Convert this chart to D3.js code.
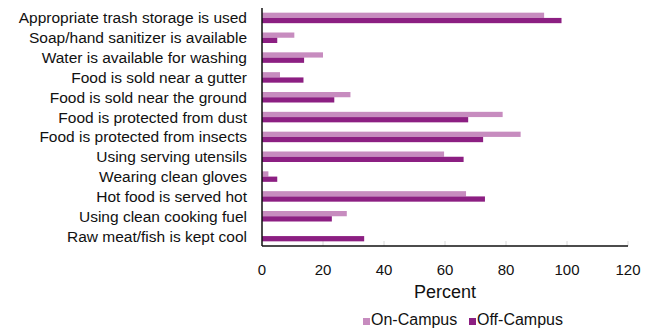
<!DOCTYPE html>
<html>
<head>
<meta charset="utf-8">
<script src="https://cdn.jsdelivr.net/npm/d3@7"></script>
<style>
  body { margin: 0; background: #fff; }
  svg { display: block; font-family: "Liberation Sans", Arial, sans-serif; }
</style>
</head>
<body>
<svg id="chart" width="648" height="328"></svg>
<script>
// Hygiene practices observed among food vendors
const categories = [
  "Appropriate trash storage is used",
  "Soap/hand sanitizer is available",
  "Water is available for washing",
  "Food is sold near a gutter",
  "Food is sold near the ground",
  "Food is protected from dust",
  "Food is protected from insects",
  "Using serving utensils",
  "Wearing clean gloves",
  "Hot food is served hot",
  "Using clean cooking fuel",
  "Raw meat/fish is kept cool"
];
const onCampus  = [92.5, 10.6, 20.0, 5.9, 29.0, 78.9, 84.8, 59.7, 2.1, 66.9, 27.8, 0];
const offCampus = [98.2, 5.0, 13.8, 13.6, 23.7, 67.6, 72.5, 66.1, 5.0, 73.1, 22.9, 33.5];
const seriesNames = ["On-Campus", "Off-Campus"];
const seriesColors = ["#c78cbf", "#8c1f82"];
const xTicks = [0, 20, 40, 60, 80, 100, 120];

const svg = d3.select("#chart");
const margin = { left: 262, right: 20, top: 8, bottom: 82 };
const W = 648, H = 328;

const x = d3.scaleLinear().domain([0, 120]).range([margin.left, 628]);
const y = d3.scaleBand().domain(categories).range([margin.top, H - margin.bottom]).paddingInner(0.47).paddingOuter(0.235);
const sub = d3.scaleBand().domain(seriesNames).range([0, y.bandwidth()]);

// faint tick marks rising from the baseline
svg.append("g").selectAll("line").data(xTicks.slice(1)).join("line")
  .attr("x1", d => x(d)).attr("x2", d => x(d))
  .attr("y1", H - margin.bottom - 5).attr("y2", H - margin.bottom)
  .attr("stroke", "#d8d8d8").attr("stroke-width", 1);

// bars
const rows = svg.append("g").selectAll("g").data(categories).join("g")
  .attr("transform", d => `translate(0,${y(d)})`);
[onCampus, offCampus].forEach((vals, s) => {
  rows.append("rect")
    .attr("x", x(0))
    .attr("y", sub(seriesNames[s]))
    .attr("width", (d, i) => x(vals[i]) - x(0))
    .attr("height", sub.bandwidth())
    .attr("fill", seriesColors[s]);
});

// axes lines
svg.append("line").attr("x1", x(0)).attr("x2", x(0))
  .attr("y1", margin.top).attr("y2", H - margin.bottom)
  .attr("stroke", "#111").attr("stroke-width", 1.5);
svg.append("line").attr("x1", x(0)).attr("x2", x(120))
  .attr("y1", H - margin.bottom).attr("y2", H - margin.bottom)
  .attr("stroke", "#111").attr("stroke-width", 1.5);

// category labels
svg.append("g").selectAll("text").data(categories).join("text")
  .attr("x", 247)
  .attr("y", d => y(d) + y.bandwidth() / 2)
  .attr("dy", "0.35em")
  .attr("text-anchor", "end")
  .attr("font-size", 15.5)
  .attr("fill", "#111")
  .text(d => d);

// x tick labels
svg.append("g").selectAll("text").data(xTicks).join("text")
  .attr("x", d => x(d))
  .attr("y", 275)
  .attr("text-anchor", "middle")
  .attr("font-size", 15)
  .attr("fill", "#111")
  .text(d => d);

// axis title
svg.append("text").attr("x", x(60)).attr("y", 298)
  .attr("text-anchor", "middle").attr("font-size", 18).attr("fill", "#111")
  .text("Percent");

// legend
const legendX = [363, 469];
seriesNames.forEach((name, i) => {
  svg.append("rect").attr("x", legendX[i]).attr("y", 318).attr("width", 7).attr("height", 7)
    .attr("fill", seriesColors[i]);
  svg.append("text").attr("x", legendX[i] + 8).attr("y", 325)
    .attr("font-size", 16).attr("fill", "#111").text(name);
});
</script>
</body>
</html>
